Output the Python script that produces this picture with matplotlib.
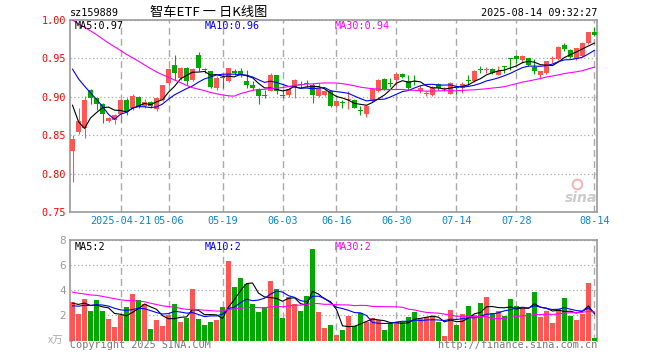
import numpy as np
import pandas as pd
import matplotlib
matplotlib.use('Agg')
import matplotlib.pyplot as plt

# trading days shown (2025-04-09 .. 2025-08-14, holidays removed)
holidays = ['2025-05-01', '2025-05-02', '2025-05-05', '2025-06-02']
days = pd.bdate_range('2025-04-09', '2025-08-14')
days = days[~days.isin(pd.to_datetime(holidays))]

tick_dates = ['2025-04-21', '2025-05-06', '2025-05-19', '2025-06-03', '2025-06-16',
              '2025-06-30', '2025-07-14', '2025-07-28', '2025-08-14']
tick_labels = ['2025-04-21', '05-06', '05-19', '06-03', '06-16', '06-30', '07-14', '07-28', '08-14']

open_ = [0.829, 0.854, 0.859, 0.909, 0.898, 0.891, 0.869, 0.870, 0.878, 0.896,
         0.885, 0.900, 0.888, 0.893, 0.884, 0.896, 0.918, 0.942, 0.924, 0.937,
         0.922, 0.954, 0.936, 0.933, 0.911, 0.926, 0.920, 0.933, 0.933, 0.921,
         0.915, 0.910, 0.9015, 0.908, 0.928, 0.902, 0.902, 0.913, 0.916, 0.918,
         0.915, 0.901, 0.902, 0.907, 0.888, 0.893, 0.896, 0.896, 0.8825, 0.878,
         0.894, 0.908, 0.923, 0.918, 0.922, 0.930, 0.920, 0.920, 0.907, 0.9035,
         0.902, 0.917, 0.910, 0.904, 0.9115, 0.911, 0.922, 0.920, 0.936, 0.935,
         0.936, 0.928, 0.940, 0.950, 0.953, 0.948, 0.950, 0.939, 0.928, 0.931,
         0.949, 0.949, 0.967, 0.961, 0.949, 0.953, 0.970, 0.984]
high = [0.850, 0.886, 0.901, 0.910, 0.899, 0.892, 0.874, 0.878, 0.897, 0.898,
        0.903, 0.901, 0.897, 0.895, 0.899, 0.916, 0.937, 0.954, 0.939, 0.939,
        0.937, 0.958, 0.938, 0.934, 0.927, 0.929, 0.937, 0.936, 0.937, 0.935,
        0.920, 0.911, 0.909, 0.931, 0.929, 0.909, 0.911, 0.923, 0.920, 0.922,
        0.918, 0.918, 0.909, 0.909, 0.895, 0.896, 0.908, 0.897, 0.888, 0.889,
        0.911, 0.923, 0.924, 0.924, 0.931, 0.931, 0.928, 0.928, 0.915, 0.907,
        0.914, 0.918, 0.913, 0.919, 0.914, 0.919, 0.928, 0.935, 0.940, 0.939,
        0.937, 0.940, 0.940, 0.951, 0.954, 0.954, 0.951, 0.949, 0.934, 0.947,
        0.953, 0.966, 0.970, 0.962, 0.964, 0.971, 0.985, 0.991]
low = [0.789, 0.852, 0.847, 0.891, 0.883, 0.866, 0.867, 0.865, 0.867, 0.876,
       0.883, 0.885, 0.885, 0.886, 0.882, 0.895, 0.916, 0.922, 0.922, 0.915,
       0.920, 0.933, 0.931, 0.911, 0.909, 0.911, 0.919, 0.928, 0.926, 0.912,
       0.909, 0.891, 0.899, 0.907, 0.904, 0.899, 0.900, 0.899, 0.911, 0.913,
       0.892, 0.900, 0.901, 0.887, 0.887, 0.886, 0.884, 0.885, 0.876, 0.874,
       0.893, 0.906, 0.909, 0.913, 0.915, 0.925, 0.909, 0.915, 0.905, 0.901,
       0.901, 0.909, 0.907, 0.903, 0.904, 0.905, 0.915, 0.919, 0.931, 0.931,
       0.930, 0.928, 0.931, 0.935, 0.944, 0.944, 0.940, 0.930, 0.923, 0.930,
       0.944, 0.948, 0.959, 0.951, 0.948, 0.952, 0.969, 0.979]
close = [0.845, 0.868, 0.896, 0.898, 0.890, 0.877, 0.872, 0.876, 0.896, 0.880,
         0.901, 0.887, 0.893, 0.888, 0.898, 0.915, 0.936, 0.931, 0.937, 0.920,
         0.936, 0.937, 0.935, 0.913, 0.924, 0.925, 0.937, 0.931, 0.929, 0.915,
         0.912, 0.901, 0.901, 0.928, 0.907, 0.901, 0.910, 0.922, 0.915, 0.917,
         0.902, 0.911, 0.907, 0.888, 0.894, 0.892, 0.897, 0.886, 0.882, 0.888,
         0.910, 0.922, 0.910, 0.917, 0.930, 0.926, 0.911, 0.919, 0.911, 0.904,
         0.913, 0.911, 0.911, 0.918, 0.911, 0.917, 0.921, 0.934, 0.935, 0.936,
         0.931, 0.933, 0.939, 0.949, 0.949, 0.953, 0.941, 0.933, 0.933, 0.946,
         0.950, 0.965, 0.962, 0.952, 0.963, 0.970, 0.984, 0.981]
# volume in 万 (x10k)
volume = [3.10, 2.12, 3.32, 2.36, 3.24, 2.36, 1.72, 1.08, 2.04, 2.63,
          3.72, 3.24, 2.89, 0.92, 1.64, 1.19, 2.04, 2.92, 1.45, 1.77,
          4.12, 1.72, 1.24, 1.48, 1.64, 2.68, 6.31, 4.23, 4.95, 4.49,
          2.92, 2.27, 2.70, 4.71, 4.12, 1.83, 3.43, 2.92, 2.36, 3.57,
          7.32, 2.30, 1.02, 1.24, 0.44, 0.84, 1.99, 1.15, 2.16, 1.45,
          1.77, 1.66, 0.84, 1.36, 1.45, 1.50, 1.90, 2.25, 1.70, 1.90,
          1.95, 1.48, 0.38, 2.44, 1.24, 2.10, 2.78, 2.06, 3.00, 3.48,
          2.20, 2.36, 1.99, 3.32, 2.71, 2.57, 2.20, 3.86, 1.89, 2.36,
          1.42, 2.52, 3.38, 1.98, 1.64, 2.14, 4.60, 0.22]

# sessions before the window (only feed the moving averages)
prior_close = [1.020, 1.030, 1.040, 1.035, 1.045, 1.030, 1.025, 1.040, 1.035, 1.030,
               1.025, 1.035, 1.030, 1.030, 1.025, 1.035, 1.040, 1.035, 1.030, 1.027,
               0.995, 0.990, 0.985, 0.975, 0.970, 0.975, 0.940, 0.830, 0.855]
prior_volume = [4.8, 5.1, 4.6, 4.2, 4.9, 4.4, 3.9, 4.7, 4.3, 4.1,
                4.6, 4.0, 4.5, 4.8, 4.2, 3.9, 4.4, 4.3, 4.1, 4.1,
                2.4, 2.6, 2.5, 2.7, 2.55, 2.6, 2.8, 3.3, 3.05]

RED = '#ff5555'
GREEN = '#00a800'
GRID = '#aaaaaa'
MA_COLORS = {5: 'black', 10: '#0000ff', 30: '#ff00ff'}
MONO = 'DejaVu Sans Mono'


def moving_avg(prior, vals, n):
    s = pd.Series(list(prior) + list(vals))
    return s.rolling(n).mean().values[len(prior):]


W, H = 660, 360
fig = plt.figure(figsize=(W / 100, H / 100), dpi=100)
ax = fig.add_axes([70 / W, 1 - 212 / H, 527 / W, 192 / H])
axv = fig.add_axes([70 / W, 1 - 340.5 / H, 527 / W, 100.5 / H])

n = len(close)
x = np.arange(n)
o = np.array(open_)
c = np.array(close)
cols = [RED if c[i] >= o[i] else GREEN for i in range(n)]
tick_pos = [list(days.strftime('%Y-%m-%d')).index(d) for d in tick_dates]

# candles
ax.vlines(x, low, high, colors=cols, lw=0.8, zorder=3)
body = np.maximum(np.abs(c - o), 0.0012)
ax.bar(x, body, bottom=np.minimum(c, o), width=0.8, color=cols, zorder=4)

for k in (5, 10, 30):
    ax.plot(x, moving_avg(prior_close, close, k), color=MA_COLORS[k], lw=0.8, zorder=5)
    axv.plot(x, moving_avg(prior_volume, volume, k), color=MA_COLORS[k], lw=0.8, zorder=5)

# volume bars
axv.bar(x, volume, width=0.8, color=cols, zorder=3)

for a in (ax, axv):
    a.set_xlim(-0.42, n - 0.58)
    a.set_xticks(tick_pos)
    a.grid(True, axis='x', color=GRID, ls=(0, (5, 3)), lw=1.0)
    a.grid(True, axis='y', color=GRID, ls=(0, (1, 2)), lw=0.9)
    a.tick_params(length=0)
    for s in a.spines.values():
        s.set_color('#999999')
        s.set_linewidth(1.2)

ax.set_ylim(0.75, 1.0)
yt = [0.75, 0.80, 0.85, 0.90, 0.95, 1.00]
ax.set_yticks(yt)
ax.set_yticklabels(['%.2f' % v for v in yt], color='red', fontfamily=MONO, fontsize=7.3)
ax.tick_params(axis='y', pad=3)
ax.set_xticklabels(tick_labels, color='#0a84d6', fontfamily=MONO, fontsize=7.3)
ax.tick_params(axis='x', pad=3)

axv.set_ylim(0, 8)
axv.set_yticks([2, 4, 6, 8])
axv.set_yticklabels(['2', '4', '6', '8'], color='#999999', fontsize=7.5)
axv.tick_params(axis='y', pad=3)
axv.set_xticklabels([])
axv.spines['bottom'].set_visible(False)


def px_text(px, py, s, **kw):
    fig.text(px / W, 1 - py / H, s, va='center', **kw)


# header
px_text(70, 13, 'sz159889', fontfamily=MONO, fontsize=7.3)
px_text(209, 12.5, '智车ETF 一 日K线图', ha='center',
        fontfamily=['Noto Sans CJK SC', 'DejaVu Sans'], fontsize=9.5)
px_text(597, 13, '2025-08-14 09:32:27', ha='right', fontfamily=MONO, fontsize=7.3)

# MA legends
ma_last = {k: moving_avg(prior_close, close, k)[-1] for k in (5, 10, 30)}
vma_last = {k: moving_avg(prior_volume, volume, k)[-1] for k in (5, 10, 30)}
for k, px in ((5, 75), (10, 205), (30, 335)):
    px_text(px, 26, 'MA%d:%.2f' % (k, ma_last[k]), color=MA_COLORS[k], fontfamily=MONO, fontsize=7.3)
    px_text(px, 246.5, 'MA%d:%.0f' % (k, vma_last[k]), color=MA_COLORS[k], fontfamily=MONO, fontsize=7.3)

# footer
px_text(70, 345.5, 'Copyright 2025 SINA.COM', color='#777777', fontfamily=MONO, fontsize=7.3)
px_text(597, 345.5, 'http://finance.sina.com.cn', ha='right', color='#777777', fontfamily=MONO, fontsize=7.3)
px_text(56, 341, 'x万', ha='center', color='#aaaaaa', style='italic',
        fontfamily=['Noto Sans CJK SC', 'DejaVu Sans'], fontsize=7.5)

# sina watermark
px_text(581, 198, 'sina', ha='center', color='#cccccc', style='italic',
        fontweight='bold', fontsize=10)
ax.plot(0.962, 0.145, marker='o', mfc='none', mec='#f5b5b5', mew=1.5, ms=7,
        transform=ax.transAxes, zorder=2)

fig.savefig('out.png', dpi=100, facecolor='white')
